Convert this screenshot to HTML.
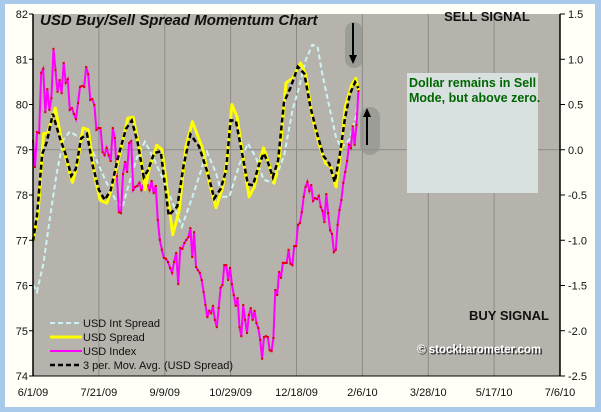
<!DOCTYPE html>
<html><head><meta charset="utf-8"><style>
body{margin:0;background:#a9c9ea;}
svg{display:block;font-family:"Liberation Sans",sans-serif;}
</style></head><body>
<svg id="c" width="601" height="412" xmlns="http://www.w3.org/2000/svg">
<rect x="0" y="0" width="601" height="412" fill="#a9c9ea"/>
<rect x="5" y="4" width="590" height="403" fill="#fffff8"/>
<rect x="33" y="14" width="527" height="362" fill="#b5b3ab"/>
<g id="grid"></g>
<g id="series"></g>
<g id="axes"></g>
<text x="40" y="25" font-size="15" font-weight="bold" font-style="italic" fill="#111">USD Buy/Sell Spread Momentum Chart</text>
<text x="487" y="21" font-size="13" font-weight="bold" text-anchor="middle" fill="#111">SELL SIGNAL</text>
<text x="509" y="320" font-size="13" font-weight="bold" text-anchor="middle" fill="#111">BUY SIGNAL</text>
<g>
<rect x="407" y="73" width="131" height="120" fill="#d8e0e0"/>
<text x="409" y="87" font-size="12.5" font-weight="bold" fill="#006600">Dollar remains in Sell</text>
<text x="409" y="102" font-size="12.5" font-weight="bold" fill="#006600">Mode, but above zero.</text>
</g>
<g>
<rect x="345" y="22" width="18" height="46" rx="9" fill="#8e8e8a" opacity="0.6"/>
<line x1="353" y1="23" x2="353" y2="56" stroke="#000" stroke-width="2"/>
<polygon points="349,55 357,55 353,64" fill="#000"/>
</g>
<g>
<rect x="360" y="107" width="20" height="48" rx="10" fill="#8e8e8a" opacity="0.6"/>
<line x1="367" y1="145" x2="367" y2="116" stroke="#000" stroke-width="2"/>
<polygon points="363,117 371,117 367,108" fill="#000"/>
</g>
<text x="417" y="353" font-size="11.5" font-weight="bold" fill="#333" transform="translate(1.5,1.5)">© stockbarometer.com</text>
<text x="417" y="353" font-size="11.5" font-weight="bold" fill="#fff">© stockbarometer.com</text>
<g font-size="11" fill="#111">
<g><line x1="50" y1="323" x2="82" y2="323" stroke="#ccf4f4" stroke-width="2" stroke-dasharray="5,3"/><text x="83" y="327">USD Int Spread</text></g>
<g><line x1="50" y1="337" x2="82" y2="337" stroke="#ffff00" stroke-width="3"/><text x="83" y="341">USD Spread</text></g>
<g><line x1="50" y1="351" x2="82" y2="351" stroke="#ff00ff" stroke-width="2"/><text x="83" y="355">USD Index</text></g>
<g><line x1="50" y1="365" x2="82" y2="365" stroke="#000" stroke-width="2.5" stroke-dasharray="5,3"/><text x="83" y="369">3 per. Mov. Avg. (USD Spread)</text></g>
</g>
</svg>
<script>
const xTickLabels=["6/1/09","7/21/09","9/9/09","10/29/09","12/18/09","2/6/10","3/28/10","5/17/10","7/6/10"];
const leftTicks=[74,75,76,77,78,79,80,81,82];
const rightTicks=[-2.5,-2.0,-1.5,-1.0,-0.5,0.0,0.5,1.0,1.5];
const indexStartDay=0, indexSplitDay=118, indexEndDay=247;
const indexValuesA=[79.19,78.62,79.39,79.37,80.70,80.79,79.83,80.34,79.88,80.14,81.23,80.76,80.28,80.54,80.25,80.92,80.48,80.56,79.88,79.92,79.79,79.68,80.03,80.39,80.41,80.39,80.83,80.67,80.10,80.12,79.99,79.44,79.48,79.48,78.95,78.88,79.04,78.88,78.75,79.48,79.26,78.42,77.62,77.60,78.46,78.73,78.51,79.15,79.19,78.11,78.18,78.20,78.27,78.11,78.22,78.24,78.22,78.11,78.31,78.04,78.20,77.45,77.01,76.79,76.61,76.59,76.52,76.39,76.28,76.52,76.72,76.03,76.83,76.81,76.94,77.01];
const indexValuesB=[77.07,77.27,76.63,77.18,76.41,76.34,76.28,76.12,75.86,75.57,75.30,75.44,75.39,75.55,75.24,75.08,75.50,75.95,76.01,76.45,76.45,76.12,76.39,76.03,75.79,75.55,75.72,75.08,74.88,75.57,75.24,74.95,75.35,75.50,75.24,75.44,75.17,75.06,74.80,74.38,74.86,74.88,74.86,74.57,74.55,74.84,75.90,75.79,76.30,76.17,76.50,76.50,76.50,76.79,76.48,76.45,76.87,76.87,77.34,77.38,77.62,77.96,78.18,78.29,78.09,78.22,77.87,77.93,77.91,77.98,77.74,77.65,77.40,78.02,77.60,77.22,77.14,76.74,76.79,77.34,77.67,77.89,78.27,78.51,78.75,79.11,79.04,79.52,79.11,79.55,80.30];
const spreadDays=[0,4,8,11,17,22,26,30,33,38,42,47,51,56,60,67,72,76,81,85,88,94,98,106,111,116,121,129,134,139,144,147,151,155,160,164,168,173,175,179,183,187,192,197,203,207,212,217,222,226,230,234,237,242,245,247];
const spreadValues=[-1.01,-0.67,0.18,0.18,0.46,0.07,-0.15,-0.36,-0.20,0.24,0.22,-0.30,-0.56,-0.59,-0.41,0.03,0.35,0.36,0.00,-0.44,-0.22,0.05,0.00,-0.94,-0.67,0.03,0.31,0.00,-0.37,-0.64,-0.41,-0.15,0.50,0.36,-0.15,-0.52,-0.41,-0.08,0.02,-0.15,-0.37,-0.08,0.74,0.79,0.96,0.83,0.36,0.07,-0.15,-0.19,-0.41,0.03,0.47,0.72,0.79,0.66];
const intDays=[0,3,8,13,18,23,28,36,41,48,56,64,68,73,79,85,91,98,106,113,121,126,132,139,144,149,157,163,169,175,183,191,197,202,207,212,216,219,225,230,234,240,245,247];
const intValues=[-1.49,-1.57,-1.25,-0.74,-0.26,0.11,0.20,0.13,0.14,-0.11,-0.37,-0.59,-0.63,-0.37,-0.08,0.09,-0.08,-0.30,-0.59,-0.85,-0.52,-0.30,-0.02,-0.26,-0.52,-0.52,-0.15,0.07,-0.08,-0.33,-0.37,-0.04,0.44,0.69,0.99,1.16,1.14,0.88,0.47,0.14,0.02,0.11,0.36,0.58];

const X0=33,X1=560,Y0=14,Y1=376,NS="http://www.w3.org/2000/svg";
const xs=d=>X0+d*(X1-X0)/400;
const yl=v=>Y1-(v-74)*(Y1-Y0)/8;
const yr=v=>Y1-(v+2.5)*(Y1-Y0)/4;
function mk(tag,attrs,parent){const e=document.createElementNS(NS,tag);for(const k in attrs)e.setAttribute(k,attrs[k]);parent.appendChild(e);return e;}
const grid=document.getElementById('grid'),ser=document.getElementById('series'),ax=document.getElementById('axes');
xTickLabels.forEach((t,i)=>{const x=xs(i*50);
 if(i>0&&i<8){const g=mk('line',{x1:x,x2:x,y1:Y0,y2:Y1,stroke:'#8c8b86','stroke-width':1},grid);}
 const tx=mk('text',{x:x,y:396,'font-size':11,'text-anchor':'middle',fill:'#111'},ax);tx.textContent=t;
 
 
});
const hg=mk('line',{x1:X0,x2:X1,y1:yl(79),y2:yl(79),stroke:'#8c8b86'},grid);


mk('line',{x1:X0,x2:X0,y1:Y0,y2:Y1,stroke:'#000','stroke-width':1.5},ax);
mk('line',{x1:X1,x2:X1,y1:Y0,y2:Y1,stroke:'#000','stroke-width':1.5},ax);
mk('line',{x1:X0,x2:X1,y1:Y1,y2:Y1,stroke:'#000','stroke-width':1},ax);
leftTicks.forEach(v=>{const y=yl(v);mk('line',{x1:X0-4,x2:X0,y1:y,y2:y,stroke:'#000'},ax);
 const t=mk('text',{x:28,y:y+4,'font-size':11,'text-anchor':'end',fill:'#111'},ax);t.textContent=v;
 
 });
rightTicks.forEach(v=>{const y=yr(v);mk('line',{x1:X1,x2:X1+5,y1:y,y2:y,stroke:'#000'},ax);
 const t=mk('text',{x:568,y:y+4,'font-size':11,fill:'#111'},ax);t.textContent=v.toFixed(1);
 
 });
function path(days,vals,yf){return days.map((d,i)=>(i?'L':'M')+xs(d).toFixed(1)+','+yf(vals[i]).toFixed(1)).join(' ');}
const p1=mk('path',{d:path(intDays,intValues,yr),fill:'none',stroke:'#ccf4f4','stroke-width':2,'stroke-dasharray':'5,3'},ser);


const idx=indexValuesA.concat(indexValuesB);
const daysA=indexValuesA.map((v,i)=>indexStartDay+i*(indexSplitDay-indexStartDay)/indexValuesA.length);
const daysB=indexValuesB.map((v,i)=>indexSplitDay+i*(indexEndDay-indexSplitDay)/(indexValuesB.length-1));
const idxDays=daysA.concat(daysB);
const p2=mk('path',{d:path(idxDays,idx,yl),fill:'none',stroke:'#ff00ff','stroke-width':2},ser);


idx.forEach((v,i)=>{const c=mk('rect',{x:xs(idxDays[i])-1,y:yl(v)-1,width:2,height:2,fill:'#e00000'},ser);
 
 });
const p3=mk('path',{d:path(spreadDays,spreadValues,yr),fill:'none',stroke:'#ffff00','stroke-width':3,'stroke-linejoin':'round'},ser);


const ma=spreadValues.map((v,i)=>{const a=spreadValues.slice(Math.max(0,i-2),i+1);return a.reduce((s,x)=>s+x,0)/a.length;});
const maDays=spreadDays.map((d,i)=>i>0?(d+spreadDays[i-1])/2+1:d);
const p4=mk('path',{d:path(maDays,ma.map((m,i)=>(m+spreadValues[i]*2)/3),yr),fill:'none',stroke:'#000','stroke-width':2.5,'stroke-dasharray':'5,3'},ser);


</script>
</body></html>
